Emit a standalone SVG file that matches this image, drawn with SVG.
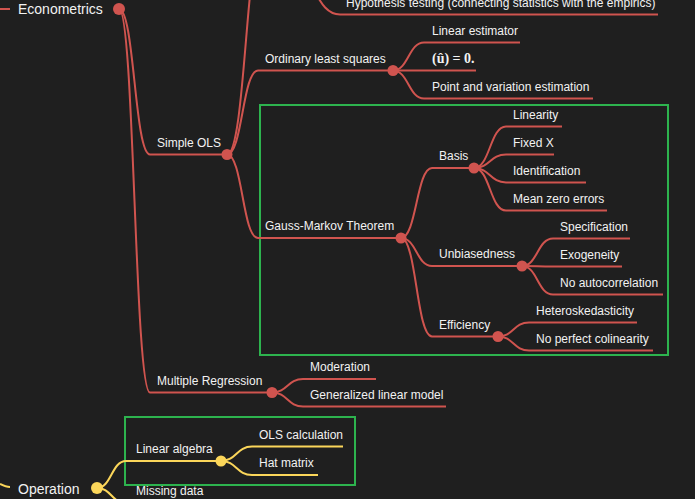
<svg xmlns="http://www.w3.org/2000/svg" width="695" height="499" viewBox="0 0 695 499">
<style>
text{font-family:"Liberation Sans",Arial,sans-serif;font-size:12px;fill:#f2f2f2}
.big{font-size:14px}
.math{font-family:"Liberation Serif","DejaVu Serif",serif;font-weight:bold;font-size:14px}
.r{stroke:#d0544f;stroke-width:2;fill:none}
.y{stroke:#fbd65a;stroke-width:2;fill:none}
.rc{fill:#d0544f}
.yc{fill:#fbd65a}
.box{fill:none;stroke:#2db34e;stroke-width:2}
</style>
<rect width="695" height="499" fill="#1f1f1f"/>
<g id="highlights">
<rect class="box" x="260" y="105" width="408" height="250"/>
<rect class="box" x="125" y="417" width="230" height="68"/>
</g>
<g id="connectors">
<path class="r" d="M0,9 L10,9"/>
<path class="r" d="M119,9 C134.5,9 134.5,154.5 150,154.5"/>
<path class="r" d="M119,9 C134.5,9 134.5,392.5 150,392.5"/>
<path class="r" d="M227,154.5 C246,154.5 246,-74 265,-74"/>
<path class="r" d="M290,-30 C315,-30 315,14.5 340,14.5"/>
<path class="r" d="M227,154.5 C242.5,154.5 242.5,70.5 258,70.5"/>
<path class="r" d="M227,154.5 C242.5,154.5 242.5,238 258,238"/>
<path class="r" d="M393,70.5 C408.5,70.5 408.5,42.5 424,42.5"/>
<path class="r" d="M393,70.5 L424,70.5"/>
<path class="r" d="M393,70.5 C408.5,70.5 408.5,98.5 424,98.5"/>
<path class="r" d="M401,238 C416.5,238 416.5,168 432,168"/>
<path class="r" d="M401,238 C416.5,238 416.5,266 432,266"/>
<path class="r" d="M401,238 C416.5,238 416.5,336.5 432,336.5"/>
<path class="r" d="M474,168 C490,168 490,126.5 506,126.5"/>
<path class="r" d="M474,168 C490,168 490,154.5 506,154.5"/>
<path class="r" d="M474,168 C490,168 490,182.5 506,182.5"/>
<path class="r" d="M474,168 C490,168 490,210.5 506,210.5"/>
<path class="r" d="M522,266 C537.5,266 537.5,238.5 553,238.5"/>
<path class="r" d="M522,266 C537.5,266 537.5,266.5 553,266.5"/>
<path class="r" d="M522,266 C537.5,266 537.5,294.5 553,294.5"/>
<path class="r" d="M498,336.5 C513.5,336.5 513.5,322.5 529,322.5"/>
<path class="r" d="M498,336.5 C513.5,336.5 513.5,350.5 529,350.5"/>
<path class="r" d="M272,392.5 C287.5,392.5 287.5,379 303,379"/>
<path class="r" d="M272,392.5 C287.5,392.5 287.5,406.5 303,406.5"/>
<path class="y" d="M0,484 C4,486 6,487 10,487"/>
<path class="y" d="M97,488 C111.5,488 111.5,461 126,461"/>
<path class="y" d="M97,488 C111.5,488 111.5,503 126,503"/>
<path class="y" d="M221,461 C236.5,461 236.5,446.5 252,446.5"/>
<path class="y" d="M221,461 C236.5,461 236.5,475 252,475"/>
</g>
<g id="econometrics"><text class="big" x="18" y="14">Econometrics</text><circle class="rc" cx="119" cy="9" r="6"/></g>
<g id="hypothesis"><path class="r" d="M340,14.5 H658"/><text x="346" y="7">Hypothesis testing (connecting statistics with the empirics)</text></g>
<g id="simple-ols"><path class="r" d="M150,154.5 H227"/><text x="157" y="146.5">Simple OLS</text><circle class="rc" cx="227" cy="154.5" r="5.5"/></g>
<g id="ols"><path class="r" d="M258,70.5 H393"/><text x="265" y="62.5">Ordinary least squares</text><circle class="rc" cx="393" cy="70.5" r="5.5"/></g>
<g id="linear-estimator"><path class="r" d="M424,42.5 H520"/><text x="432" y="34.5">Linear estimator</text></g>
<g id="mean-residual"><path class="r" d="M424,70.5 H476"/><text class="math" x="432" y="63">(û) = 0.</text></g>
<g id="point-estimation"><path class="r" d="M424,98.5 H593"/><text x="432" y="90.5">Point and variation estimation</text></g>
<g id="gauss-markov"><path class="r" d="M258,238 H401"/><text x="265" y="230">Gauss-Markov Theorem</text><circle class="rc" cx="401" cy="238" r="5.5"/></g>
<g id="basis"><path class="r" d="M432,168 H474"/><text x="439" y="160">Basis</text><circle class="rc" cx="474" cy="168" r="5.5"/></g>
<g id="linearity"><path class="r" d="M506,126.5 H562"/><text x="513" y="118.5">Linearity</text></g>
<g id="fixed-x"><path class="r" d="M506,154.5 H554"/><text x="513" y="146.5">Fixed X</text></g>
<g id="identification"><path class="r" d="M506,182.5 H586"/><text x="513" y="174.5">Identification</text></g>
<g id="mean-zero"><path class="r" d="M506,210.5 H607"/><text x="513" y="202.5">Mean zero errors</text></g>
<g id="unbiasedness"><path class="r" d="M432,266 H522"/><text x="439" y="258">Unbiasedness</text><circle class="rc" cx="522" cy="266" r="5.5"/></g>
<g id="specification"><path class="r" d="M553,238.5 H630"/><text x="560" y="230.5">Specification</text></g>
<g id="exogeneity"><path class="r" d="M553,266.5 H622"/><text x="560" y="258.5">Exogeneity</text></g>
<g id="no-autocorrelation"><path class="r" d="M553,294.5 H663"/><text x="560" y="286.5">No autocorrelation</text></g>
<g id="efficiency"><path class="r" d="M432,336.5 H498"/><text x="439" y="328.5">Efficiency</text><circle class="rc" cx="498" cy="336.5" r="5.5"/></g>
<g id="heteroskedasticity"><path class="r" d="M529,322.5 H637"/><text x="536" y="314.5">Heteroskedasticity</text></g>
<g id="no-colinearity"><path class="r" d="M529,350.5 H653"/><text x="536" y="342.5">No perfect colinearity</text></g>
<g id="multiple-regression"><path class="r" d="M150,392.5 H272"/><text x="157" y="384.5">Multiple Regression</text><circle class="rc" cx="272" cy="392.5" r="5.5"/></g>
<g id="moderation"><path class="r" d="M303,379 H376"/><text x="310" y="371">Moderation</text></g>
<g id="glm"><path class="r" d="M303,406.5 H446"/><text x="310" y="398.5">Generalized linear model</text></g>
<g id="operation"><text class="big" x="18" y="494">Operation</text><circle class="yc" cx="97" cy="488" r="6"/></g>
<g id="linear-algebra"><path class="y" d="M126,461 H221"/><text x="136" y="453">Linear algebra</text><circle class="yc" cx="221" cy="461" r="5.5"/></g>
<g id="ols-calculation"><path class="y" d="M252,446.5 H343"/><text x="259" y="438.5">OLS calculation</text></g>
<g id="hat-matrix"><path class="y" d="M252,475 H318"/><text x="259" y="467">Hat matrix</text></g>
<g id="missing-data"><path class="y" d="M126,503 H200"/><text x="136" y="495">Missing data</text></g>
</svg>
